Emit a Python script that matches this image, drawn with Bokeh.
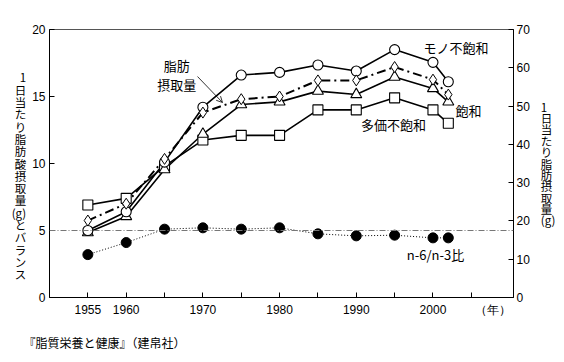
from bokeh.plotting import figure
from bokeh.models import Range1d, LinearAxis, FixedTicker, Label, Arrow, OpenHead, Span, Title, Grid
from bokeh.embed import file_html
from bokeh.resources import INLINE

years = [1955, 1960, 1965, 1970, 1975, 1980, 1985, 1990, 1995, 2000, 2002]
mono = [5.0, 6.4, 10.1, 14.2, 16.6, 16.8, 17.35, 16.9, 18.5, 17.55, 16.1]
sat = [4.85, 6.05, 9.55, 12.2, 14.4, 14.6, 15.4, 15.15, 16.45, 15.6, 14.6]
poly = [6.9, 7.4, 9.8, 11.75, 12.1, 12.1, 14.0, 14.0, 14.9, 14.0, 13.0]
fat_total = [20.1, 24.5, 36.2, 48.3, 51.8, 52.5, 56.7, 56.7, 60.2, 56.9, 53.0]
ratio = [3.2, 4.1, 5.1, 5.2, 5.1, 5.2, 4.75, 4.6, 4.65, 4.45, 4.45]

x_ticks = [1955, 1960, 1965, 1970, 1975, 1980, 1985, 1990, 1995, 2000, 2005]
year_unit_pos = 2007.8
x_labels = {1955: "1955", 1960: "1960", 1965: "", 1970: "1970", 1975: "",
            1980: "1980", 1985: "", 1990: "1990", 1995: "", 2000: "2000", 2005: "",
            year_unit_pos: "（年）"}
left_ticks = [0, 5, 10, 15, 20]
right_ticks = [0, 10, 20, 30, 40, 50, 60, 70]
balance_level = 5

left_title = "\n\n1\n日\n当\nた\nり\n脂\n肪\n酸\n摂\n取\n量\n(g)\nと\nバ\nラ\nン\nス"
right_title = "1\n日\n当\nた\nり\n脂\n肪\n摂\n取\n量\n(g)"
source_text = "『脂質栄養と健康』（建帛社）"

JP = "Noto Sans CJK JP"
NUM = "Liberation Sans"

p = figure(frame_width=464, frame_height=268,
           x_range=Range1d(1950, 2010.5), y_range=Range1d(0, 20),
           min_border_left=49, min_border_right=51, min_border_top=29, min_border_bottom=10,
           output_backend="svg", toolbar_location=None)
p.extra_y_ranges = {"right": Range1d(0, 70)}
p.xgrid.visible = False
p.ygrid.visible = False
p.outline_line_color = "#555555"
p.outline_line_width = 1
p.background_fill_color = "white"
p.border_fill_color = "white"

def style_axis(ax):
    ax.axis_line_color = "black"
    ax.axis_line_width = 1
    ax.major_tick_in = 5
    ax.major_tick_out = 0
    ax.minor_tick_line_color = None
    ax.major_tick_line_color = "black"
    ax.major_label_text_font = NUM
    ax.major_label_text_font_size = "12px"
    ax.major_label_text_color = "black"

def style_title(ax, standoff, size, lh):
    ax.axis_label_orientation = "horizontal"
    ax.axis_label_standoff = standoff
    ax.axis_label_text_font = JP
    ax.axis_label_text_font_size = size
    ax.axis_label_text_font_style = "normal"
    ax.axis_label_text_line_height = lh
    ax.axis_label_text_color = "black"

xa = p.xaxis[0]
style_axis(xa)
xa.ticker = FixedTicker(ticks=x_ticks + [year_unit_pos])
xa.major_label_overrides = x_labels
xa.major_label_standoff = 5
xa.major_tick_line_color = None

# inward tick marks on the year axis (drawn without the unit position)
tick_grid = Grid(dimension=0, ticker=FixedTicker(ticks=x_ticks), grid_line_color="black",
                 grid_line_width=1)
tick_grid.cross_bounds = (0, 5 * 20 / 268)
p.add_layout(tick_grid)

ya = p.yaxis[0]
style_axis(ya)
ya.ticker = FixedTicker(ticks=left_ticks)
ya.major_label_standoff = 4
ya.axis_label = left_title
style_title(ya, 3, "11.5px", 0.768)

ra = LinearAxis(y_range_name="right")
style_axis(ra)
ra.ticker = FixedTicker(ticks=right_ticks)
ra.major_label_standoff = 3
ra.axis_label = right_title
style_title(ra, 8, "11.5px", 0.71)
p.add_layout(ra, "right")

p.add_layout(Title(text=source_text, align="left", offset=-26, standoff=25,
                   text_font=JP, text_font_size="12px", text_font_style="normal",
                   text_color="black"), "below")

# reference line
p.add_layout(Span(location=balance_level, dimension="width", line_color="#777777",
                  line_width=1, line_dash="6 2 1 2"))

# lines
p.line(years, ratio, line_color="black", line_width=1, line_dash="1 2")
p.line(years, poly, line_color="black", line_width=1.6)
p.line(years, sat, line_color="black", line_width=1.6)
p.line(years, mono, line_color="black", line_width=1.6)
p.line(years, fat_total, y_range_name="right", line_color="black", line_width=2,
       line_dash="9 4 2 4")

# markers
p.scatter(years, ratio, marker="circle", size=10, fill_color="black", line_color="black")
p.scatter(years, poly, marker="square", size=10, fill_color="white", line_color="black", line_width=1.1)
p.scatter(years, sat, marker="triangle", size=11, fill_color="white", line_color="black", line_width=1.1)
p.scatter(years, mono, marker="circle", size=10, fill_color="white", line_color="black", line_width=1.1)
p.scatter(years, fat_total, y_range_name="right", marker="diamond", size=11,
          fill_color="white", line_color="black", line_width=1)

def lab(x, y, text, align="left", baseline="middle", size="13px", font=JP, lh=1.2):
    l = Label(x=x, y=y, text=text, text_align=align, text_baseline=baseline,
              text_font=font, text_font_size=size, text_color="black",
              text_line_height=lh)
    p.add_layout(l)
    return l

lab(1998.76, 18.66, "モノ不飽和")
lab(2002.93, 13.96, "飽和")
lab(1994.85, 12.91, "多価不飽和", align="center")
lab(2000.33, 3.21, "n-6/n-3比", align="center")
lab(1966.6, 18.05, "脂肪\n摂取量", align="center", baseline="top", lh=1.0)

p.add_layout(Arrow(end=OpenHead(size=6, line_width=0.8, line_color="black"),
                   x_start=1969.3, y_start=16.49, x_end=1972.56, y_end=14.55,
                   line_width=0.8, line_color="black"))

open("out.html", "w").write(file_html(p, INLINE))
